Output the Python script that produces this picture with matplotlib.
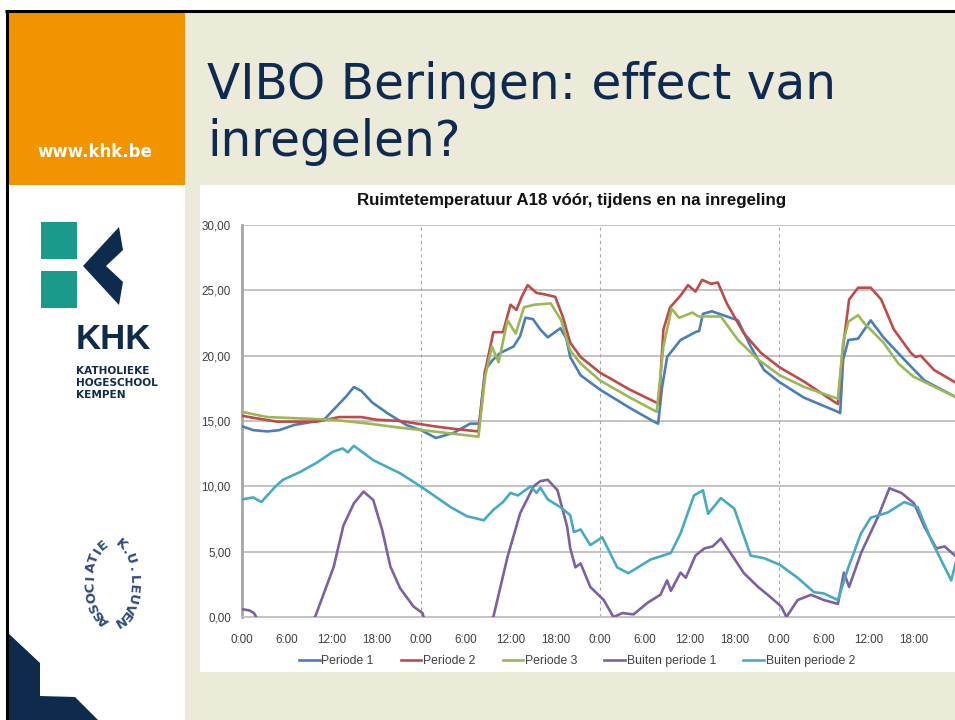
import matplotlib
matplotlib.use("Agg")
import matplotlib.pyplot as plt
import numpy as np
from matplotlib.patches import Rectangle, Polygon
from matplotlib.lines import Line2D

# ---------------- data (hours since start, temperature in degC) ----------------
hours_p1 = [0, 1.5, 3.4, 5, 7, 9.1, 11, 12.5, 14, 15, 16, 17.5, 19.5, 22, 24, 26, 28.4, 30.6, 31.8,
            32.6, 33.5, 34.6, 36.4, 37.3, 38, 39, 40, 41, 42.7, 43.5, 44, 45.4, 48, 52, 55.4, 55.8,
            56.3, 57, 58.8, 60.8, 61.3, 61.8, 63, 65, 66.5, 68.2, 70, 72, 75.3, 79.9, 80.2,
            80.6, 81.3, 82.6, 84.3, 86, 88.8, 91.5, 95.8]
temp_p1 = [14.6, 14.3, 14.2, 14.3, 14.7, 14.9, 15.1, 16.0, 16.9, 17.6, 17.3, 16.4, 15.6, 14.7, 14.3, 13.7, 14.1, 14.8, 14.8,
           18.9, 19.6, 20.2, 20.7, 21.5, 22.9, 22.8, 22.0, 21.4, 22.1, 21.3, 19.9, 18.5, 17.4, 16.0, 14.9, 14.8,
           17.5, 19.9, 21.2, 21.8, 21.9, 23.2, 23.4, 23.0, 22.7, 20.7, 18.9, 18.0, 16.8, 15.7, 15.6,
           19.7, 21.2, 21.3, 22.7, 21.4, 19.7, 18.1, 16.8]

hours_p2 = [0, 2, 4.7, 10, 13, 16, 18, 21.2, 25.7, 28.4, 31.7, 32.6, 33.7, 35, 36, 36.8, 37.5, 38.3,
            39.5, 40.5, 42, 43, 44, 45.4, 48, 52, 55.6, 55.9, 56.5, 57.4, 58.8, 59.8, 60.8, 61.7,
            62.9, 63.8, 65, 67.3, 69.6, 72.1, 75.4, 79.6, 79.9, 80.6, 81.4, 82.6, 84.3, 85.7, 87.4,
            89.7, 90.3, 91, 92.8, 95.8]
temp_p2 = [15.4, 15.2, 14.95, 14.95, 15.3, 15.3, 15.1, 15.0, 14.6, 14.4, 14.2, 18.8, 21.8, 21.8, 23.9, 23.5, 24.5, 25.4,
           24.8, 24.7, 24.5, 23.0, 21.0, 19.9, 18.7, 17.4, 16.4, 16.3, 22.0, 23.7, 24.6, 25.4, 24.9, 25.8,
           25.5, 25.6, 24.0, 21.7, 20.2, 19.1, 18.0, 16.4, 16.3, 20.7, 24.3, 25.2, 25.2, 24.3, 22.0,
           20.2, 19.9, 20.0, 18.9, 17.9]

hours_p3 = [0, 3.4, 12, 17, 21, 25.7, 30.2, 31.7, 32.6, 33.5, 34.4, 35.6, 36.7, 37.8, 39.2, 41.4, 42.8,
            44, 45.4, 48, 52, 55.6, 56.5, 57.6, 58.6, 60.4, 61.2, 64.2, 66.5, 69.2, 72.1, 75.4, 79.9,
            80.6, 81.3, 82.6, 83.4, 86, 88, 90, 95.8]
temp_p3 = [15.7, 15.3, 15.1, 14.8, 14.5, 14.2, 13.9, 13.8, 18.4, 20.7, 19.5, 22.7, 21.7, 23.7, 23.9, 24.0, 22.7,
           20.4, 19.4, 18.1, 16.8, 15.7, 20.7, 23.6, 22.9, 23.3, 23.0, 23.0, 21.2, 19.7, 18.5, 17.6, 16.7,
           21.0, 22.6, 23.1, 22.5, 21.0, 19.4, 18.4, 16.8]

hours_out1 = [0, 1.0, 1.6, 2.2, 5, 9.8, 12.3, 13.6, 15, 16.3, 17.6, 18.8, 19.9, 21.2, 23, 24.2, 24.5, 28,
              33.7, 35.6, 37.3, 39.1, 40, 41, 42.3, 43.6, 44, 44.7, 45.4, 46.7, 48.5, 49.8, 51, 52.5,
              54.4, 56.1, 57, 57.5, 58.8, 59.5, 60.8, 62, 63.1, 64.2, 65.5, 67.3, 69.2, 70.9, 72.3,
              73, 74.5, 76.3, 78, 79.9, 80.7, 81.4, 83, 85.3, 86.8, 88.4, 90.1, 91.5, 93.1, 94.2, 95.8]
temp_out1 = [0.6, 0.5, 0.3, -0.3, -2.0, 0.0, 3.85, 7.0, 8.7, 9.6, 8.95, 6.65, 3.85, 2.2, 0.8, 0.3, -0.3, -2.5,
             0.0, 4.6, 7.95, 10.0, 10.4, 10.5, 9.7, 6.9, 5.3, 3.8, 4.1, 2.3, 1.3, 0.0, 0.3, 0.2,
             1.1, 1.7, 2.8, 2.0, 3.4, 3.0, 4.7, 5.25, 5.4, 6.0, 4.9, 3.35, 2.3, 1.5, 0.8,
             0.0, 1.3, 1.7, 1.3, 1.0, 3.4, 2.3, 4.9, 7.7, 9.85, 9.5, 8.7, 6.9, 5.25, 5.4, 4.6]

hours_out2 = [0, 1.5, 2.6, 4.5, 5.5, 7.8, 10, 12.2, 13.5, 14.2, 15, 17.6, 21.2, 24.2, 28, 30.2, 31, 32.4,
              33.7, 35, 36, 37, 38.7, 39.5, 40, 41, 42.7, 44, 44.5, 45.4, 46.7, 48.3, 50.3, 51.8, 54.8,
              57.5, 58.8, 60.6, 61.8, 62.5, 64.2, 66, 68.2, 70, 72.1, 74.5, 76.7, 78, 79.9, 81.3, 83,
              84.3, 86.6, 88.8, 90.6, 92.4, 93.7, 95.1, 95.8]
temp_out2 = [9.0, 9.15, 8.8, 10.0, 10.5, 11.1, 11.8, 12.65, 12.9, 12.6, 13.1, 12.0, 11.0, 9.9, 8.4, 7.7, 7.6, 7.4,
             8.2, 8.8, 9.5, 9.3, 10.0, 9.5, 9.9, 9.0, 8.4, 7.8, 6.5, 6.7, 5.5, 6.1, 3.8, 3.35, 4.4,
             4.9, 6.4, 9.3, 9.7, 7.9, 9.1, 8.3, 4.7, 4.5, 4.0, 3.0, 1.9, 1.8, 1.3, 3.8, 6.4,
             7.6, 8.0, 8.8, 8.4, 5.9, 4.4, 2.8, 4.4]

series_labels = ["Periode 1", "Periode 2", "Periode 3", "Buiten periode 1", "Buiten periode 2"]
series_colors = ["#4A7EBB", "#BE4B48", "#98B954", "#7D60A0", "#46AAC5"]
y_ticks = [0, 5, 10, 15, 20, 25, 30]
x_tick_hours = list(range(0, 96, 6))
x_tick_labels = ["0:00", "6:00", "12:00", "18:00"] * 4
midnights = [24, 48, 72]

chart_title = "Ruimtetemperatuur A18 vóór, tijdens en na inregeling"
slide_title_lines = ["VIBO Beringen: effect van", "inregelen?"]

# ---------------- figure ----------------
W, H = 955, 720
fig = plt.figure(figsize=(W / 100, H / 100), dpi=100)
fig.patch.set_facecolor("white")

bg = fig.add_axes([0, 0, 1, 1], zorder=0)
bg.set_xlim(0, W)
bg.set_ylim(H, 0)
bg.axis("off")

beige = "#ECEAD9"
navy = "#0E2A50"
bg.add_patch(Rectangle((6, 11), W - 6, H - 11, color=beige, lw=0))
bg.add_patch(Rectangle((8, 12), 177, 173, color="#F29400", lw=0))
bg.add_patch(Rectangle((8, 185), 177, H - 185, color="white", lw=0))
bg.add_patch(Rectangle((200, 185), W - 200, 487, color="white", lw=0))
# black border lines
bg.plot([5, W], [10.5, 10.5], color="black", lw=2.2, solid_capstyle="butt")
bg.plot([6.5, 6.5], [10, H], color="black", lw=2.2, solid_capstyle="butt")

bg.text(95, 152, "www.khk.be", color="white", fontsize=12, fontweight="bold",
        ha="center", va="center", family="DejaVu Sans")

for i, line in enumerate(slide_title_lines):
    bg.text(207, 99 + 57 * i, line, color=navy, fontsize=35, ha="left", va="baseline",
            family="DejaVu Sans")

# KHK logo
teal = "#1A9A8A"
logo_navy = "#0E2A4C"
bg.add_patch(Rectangle((41, 222), 36, 37, color=teal, lw=0))
bg.add_patch(Rectangle((41, 271), 36, 37, color=teal, lw=0))
bg.add_patch(Polygon([(83, 266), (119, 227), (123, 250), (106, 266), (123, 282), (119, 305)],
                     closed=True, color=logo_navy, lw=0))
bg.text(76, 349, "KHK", color=logo_navy, fontsize=25, fontweight="bold", ha="left",
        va="baseline", family="Liberation Sans")
for i, line in enumerate(["KATHOLIEKE", "HOGESCHOOL", "KEMPEN"]):
    bg.text(76, 374 + 12 * i, line, color=logo_navy, fontsize=7.6, fontweight="bold",
            ha="left", va="baseline", family="DejaVu Sans")

# Associatie K.U.Leuven circular text
def arc_text(text, t_start, t_end, cx, cy, a, b, color):
    ts = np.linspace(t_start, t_end, len(text))
    for ch, t in zip(text, np.radians(ts)):
        x = cx + a * np.cos(t)
        y_up = b * np.sin(t)
        dx, dy = a * np.sin(t), -b * np.cos(t)
        ang = np.degrees(np.arctan2(dy, dx))
        bg.text(x, cy - y_up, ch, rotation=ang, rotation_mode="anchor", ha="center", va="bottom",
                fontsize=9.5, fontweight="bold", color=color, family="DejaVu Sans")

arc_text("ASSOCIATIE", 252, 110, 112, 582, 15, 34, "#2D4C7C")
arc_text("K.U.LEUVEN", 70, -76, 112, 582, 15, 34, "#2D4C7C")

# bottom-left navy shape
bg.add_patch(Polygon([(8, 633), (40, 663), (40, 696), (75, 697), (98, 720), (8, 720)],
                     closed=True, color=logo_navy, lw=0))

# ---------------- chart ----------------
chart_font = "Liberation Sans"
ax_left, ax_right, ax_top, ax_bottom = 242, 955, 225, 617
ax = fig.add_axes([ax_left / W, 1 - ax_bottom / H, (ax_right - ax_left) / W, (ax_bottom - ax_top) / H],
                  zorder=2)
ax.set_facecolor("none")
ax.set_xlim(0, (ax_right - ax_left) / (179.0 / 24))
ax.set_ylim(0, 30)

for yv in y_ticks[1:]:
    ax.axhline(yv, color="#BEBEBE", lw=1.3, zorder=1)
for mv in midnights:
    ax.axvline(mv, color="#A8A8A8", lw=0.8, ls=(0, (3, 3)), zorder=1)

all_hours = [hours_p1, hours_p2, hours_p3, hours_out1, hours_out2]
all_temps = [temp_p1, temp_p2, temp_p3, temp_out1, temp_out2]
handles = []
for hrs, tmp, lab, col in zip(all_hours, all_temps, series_labels, series_colors):
    ax.plot(hrs, tmp, color=col, lw=1.9, label=lab, zorder=3, solid_joinstyle="round")
    handles.append(Line2D([0], [0], color=col, lw=1.9))

for s in ["top", "right"]:
    ax.spines[s].set_visible(False)
ax.spines["left"].set_color("#A6A6A6")
ax.spines["left"].set_linewidth(2)
ax.spines["bottom"].set_color("#BEBEBE")
ax.spines["bottom"].set_linewidth(1.3)
ax.set_yticks(y_ticks)
ax.set_yticklabels([f"{v:.2f}".replace(".", ",") for v in y_ticks])
ax.set_xticks(x_tick_hours)
ax.set_xticklabels(x_tick_labels)
ax.tick_params(length=0, labelsize=8.4, labelcolor="#404040")
ax.tick_params(axis="x", pad=12)
ax.tick_params(axis="y", pad=8)
for lbl in ax.get_xticklabels() + ax.get_yticklabels():
    lbl.set_family(chart_font)

fig.text(572 / W, 1 - 201 / H, chart_title, ha="center", va="center", fontsize=12.2,
         fontweight="bold", family=chart_font, color="#111111")

leg = fig.legend(handles, series_labels, ncol=5, loc="center", bbox_to_anchor=(577 / W, 1 - 661 / H),
                 frameon=False, handlelength=1.7, handletextpad=0.15, columnspacing=2.2,
                 prop={"family": chart_font, "size": 8.8})
for t in leg.get_texts():
    t.set_color("#404040")

fig.savefig("out.png", dpi=100)
